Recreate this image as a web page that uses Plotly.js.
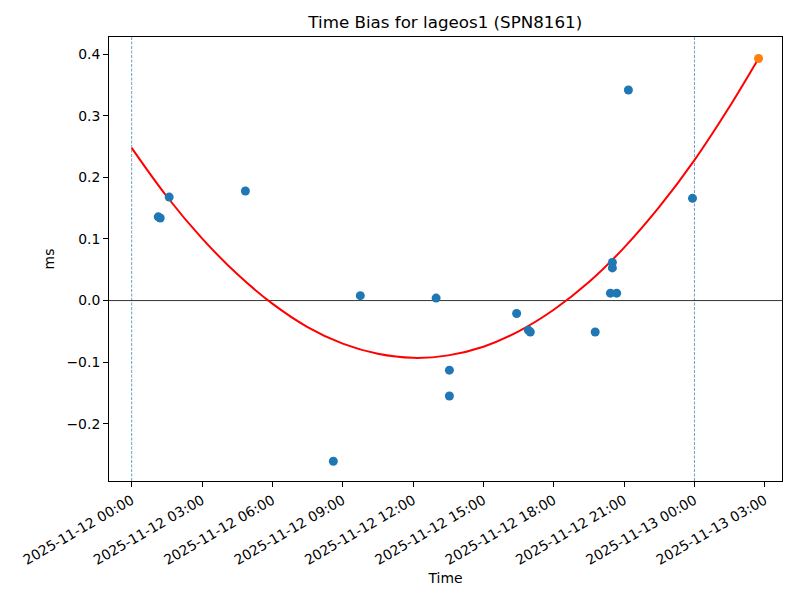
<!DOCTYPE html>
<html>
<head>
<meta charset="utf-8">
<script src="https://cdn.plot.ly/plotly-3.0.1.min.js"></script>
<style>html,body{margin:0;padding:0;background:#fff;}#chart{width:800px;height:600px;}</style>
</head>
<body>
<div id="chart"></div>
<script>
// Observed time-bias points (blue)
const obsTimes = [
  '2025-11-12 01:08', '2025-11-12 01:13', '2025-11-12 01:36', '2025-11-12 04:51',
  '2025-11-12 08:36', '2025-11-12 09:45', '2025-11-12 12:59', '2025-11-12 13:33',
  '2025-11-12 13:33', '2025-11-12 16:25', '2025-11-12 16:55', '2025-11-12 17:00',
  '2025-11-12 19:46', '2025-11-12 20:25', '2025-11-12 20:30', '2025-11-12 20:30',
  '2025-11-12 20:41', '2025-11-12 21:11', '2025-11-12 23:55'
];
const obsValues = [
  0.136, 0.134, 0.168, 0.178,
  -0.261, 0.008, 0.004, -0.113,
  -0.155, -0.021, -0.048, -0.051,
  -0.051, 0.012, 0.062, 0.053,
  0.012, 0.342, 0.166
];
// Predicted point (orange)
const predTimes = ['2025-11-13 02:44'];
const predValues = [0.393];
// Fitted curve (red)
const fitTimes = [
  '2025-11-12 00:00', '2025-11-12 01:30', '2025-11-12 03:00', '2025-11-12 04:30',
  '2025-11-12 06:00', '2025-11-12 07:30', '2025-11-12 09:00', '2025-11-12 10:30',
  '2025-11-12 12:00', '2025-11-12 13:30', '2025-11-12 15:00', '2025-11-12 16:30',
  '2025-11-12 18:00', '2025-11-12 19:30', '2025-11-12 21:00', '2025-11-12 22:30',
  '2025-11-13 00:00', '2025-11-13 01:30', '2025-11-13 02:44'
];
const fitValues = [
  0.248, 0.169, 0.101, 0.043,
  -0.005, -0.043, -0.070, -0.0865,
  -0.093, -0.089, -0.075, -0.050,
  -0.015, 0.030, 0.086, 0.152,
  0.228, 0.315, 0.393
];
// Reference lines
const dayMarks = ['2025-11-12 00:00', '2025-11-13 00:00'];
const baseline = [0];

const traces = [
  {x: fitTimes, y: fitValues, type: 'scatter', mode: 'lines', line: {color: '#ff0000', width: 2, shape: 'spline'}, hoverinfo: 'skip'},
  {x: obsTimes, y: obsValues, type: 'scatter', mode: 'markers', marker: {color: '#1f77b4', size: 9}},
  {x: predTimes, y: predValues, type: 'scatter', mode: 'markers', marker: {color: '#ff7f0e', size: 9}}
];

const shapes = [];
dayMarks.forEach(d => shapes.push({type: 'line', xref: 'x', yref: 'paper', x0: d, x1: d, y0: 0, y1: 1,
  line: {color: 'rgba(31,119,180,0.85)', width: 0.8, dash: '3px,1.5px'}, layer: 'below'}));
baseline.forEach(b => shapes.push({type: 'line', xref: 'paper', yref: 'y', x0: 0, x1: 1, y0: b, y1: b,
  line: {color: '#000000', width: 0.8}, layer: 'below'}));

const font = {family: 'DejaVu Sans', size: 13.9, color: '#000'};
const layout = {
  width: 800, height: 600,
  margin: {l: 109, r: 18, t: 37, b: 119, pad: 0},
  paper_bgcolor: '#fff', plot_bgcolor: '#fff',
  font: font,
  showlegend: false,
  title: {text: 'Time Bias for lageos1 (SPN8161)', font: {family: 'DejaVu Sans', size: 16.7, color: '#000'},
          x: 0.5566, xref: 'container', xanchor: 'center', y: 0.963, yref: 'container', yanchor: 'middle'},
  xaxis: {
    type: 'date',
    range: ['2025-11-11 23:02', '2025-11-13 03:44'],
    tick0: '2025-11-12 00:00', dtick: 10800000,
    tickformat: '%Y-%m-%d %H:%M', tickangle: -30,
    ticks: 'outside', ticklen: 5, tickwidth: 1, tickcolor: '#000',
    showline: true, linecolor: '#000', linewidth: 1, mirror: true,
    showgrid: false, zeroline: false,
    tickfont: font,
    title: {text: 'Time', font: font, standoff: 6}
  },
  yaxis: {
    range: [-0.293, 0.428],
    tick0: 0, dtick: 0.1, tickformat: '.1f',
    ticks: 'outside', ticklen: 5, tickwidth: 1, tickcolor: '#000',
    showline: true, linecolor: '#000', linewidth: 1, mirror: true,
    showgrid: false, zeroline: false,
    tickfont: font,
    title: {text: 'ms', font: font, standoff: 8}
  },
  shapes: shapes
};

Plotly.newPlot('chart', traces, layout, {displayModeBar: false, staticPlot: true});
</script>
</body>
</html>
